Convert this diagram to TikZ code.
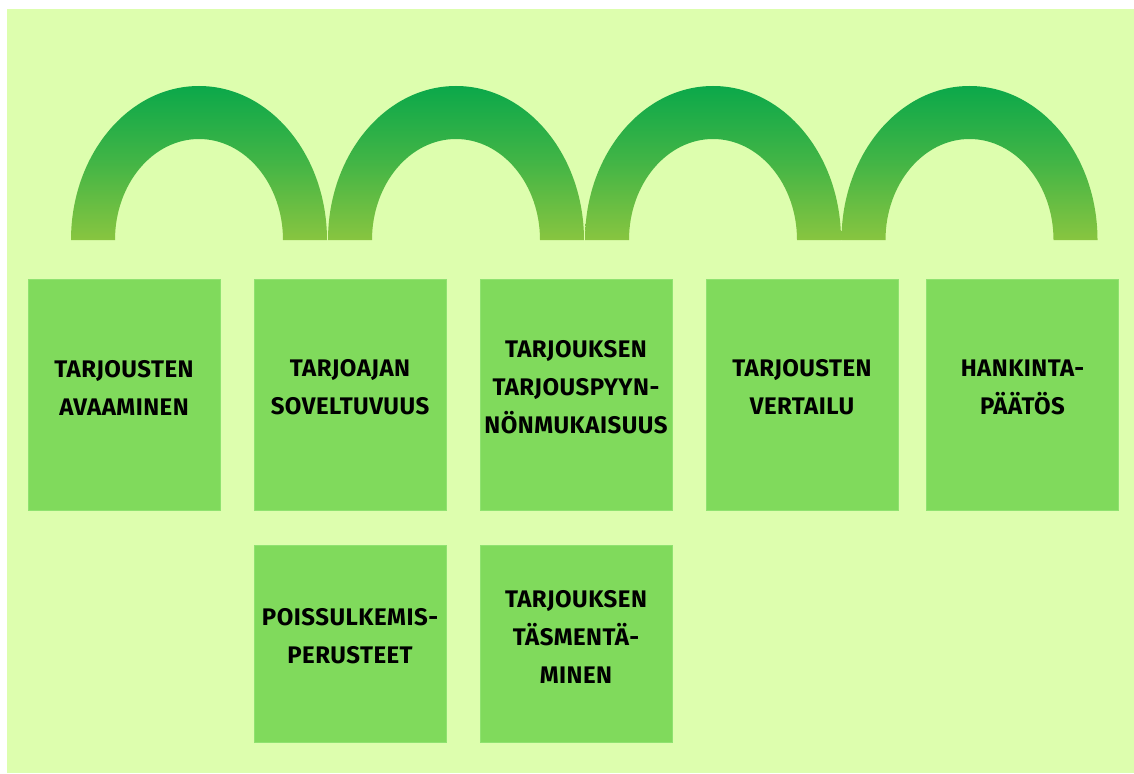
\documentclass[tikz,border=0pt]{standalone}
\usepackage{fontspec}
\setmainfont{Fira Sans}
\definecolor{bgg}{HTML}{DDFEAE}
\definecolor{boxg}{HTML}{80DA5C}
\definecolor{boxe}{HTML}{8FE270}
\definecolor{arctop}{HTML}{0BA84A}
\definecolor{arcbot}{HTML}{88C540}
\begin{document}
\begin{tikzpicture}[x=1pt,y=1pt,
  stepbox/.style={draw=boxe,line width=0.8pt,fill=boxg,minimum width=192pt,inner sep=0pt},
  tall/.style={stepbox,minimum height=231pt},
  short/.style={stepbox,minimum height=197pt},
  lbl/.style={align=center,font=\bfseries\fontsize{24}{38}\selectfont\addfontfeatures{LetterSpace=2},text=black,inner sep=0pt}]
\useasboundingbox (0,0) rectangle (1134,-773);
\fill[white] (0,0) rectangle (1134,-773);
\fill[bgg] (7,-9) rectangle (1134,-773);
% arches
\foreach \cx in {199,456,713,969.5}{
  \shade[top color=arctop,bottom color=arcbot,middle color=arctop!55!arcbot]
    (\cx-128,-240) arc[start angle=180,end angle=0,x radius=128,y radius=154]
    -- (\cx+84,-240) arc[start angle=0,end angle=180,x radius=84,y radius=101] -- cycle;
}
% boxes
\node[tall] (b1) at (124,-394.5) {};
\node[tall] (b2) at (350,-394.5) {};
\node[tall] (b3) at (576,-394.5) {};
\node[tall] (b4) at (802,-394.5) {};
\node[tall] (b5) at (1022.5,-394.5) {};
\node[short] (b6) at (350,-643.5) {};
\node[short] (b7) at (576,-643.5) {};
% labels
\node[lbl] (t1) at ([yshift=7pt]b1.center) {TARJOUSTEN\\AVAAMINEN};
\node[lbl] (t2) at ([yshift=7pt]b2.center) {TARJOAJAN\\SOVELTUVUUS};
\node[lbl] (t3) at ([yshift=7pt]b3.center) {TARJOUKSEN\\TARJOUSPYYN-\\NÖNMUKAISUUS};
\node[lbl] (t4) at ([yshift=7pt]b4.center) {TARJOUSTEN\\VERTAILU};
\node[lbl] (t5) at ([yshift=7pt]b5.center) {HANKINTA-\\PÄÄTÖS};
\node[lbl] (t6) at ([yshift=7pt]b6.center) {POISSULKEMIS-\\PERUSTEET};
\node[lbl] (t7) at ([yshift=7pt]b7.center) {TARJOUKSEN\\TÄSMENTÄ-\\MINEN};
\end{tikzpicture}
\end{document}
